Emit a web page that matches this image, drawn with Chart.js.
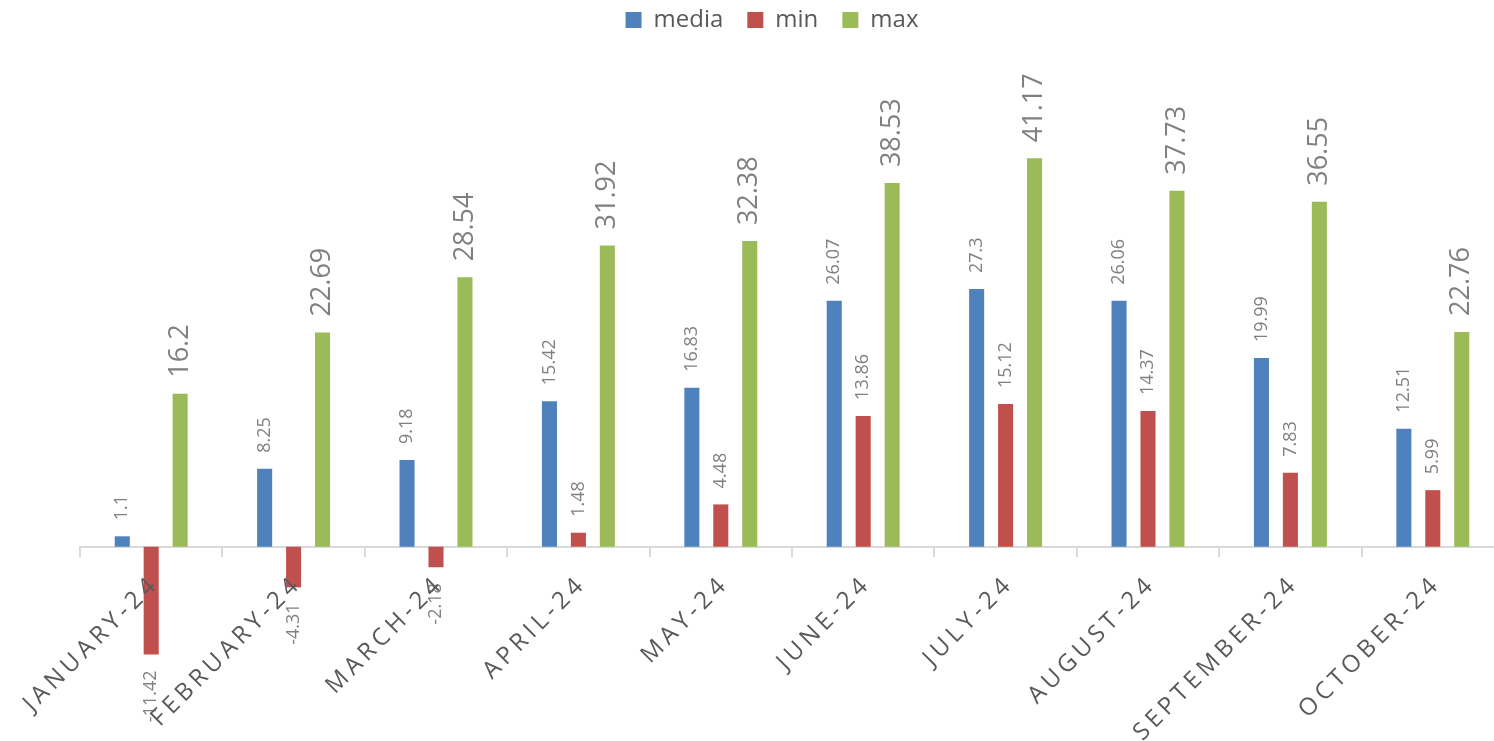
<!DOCTYPE html>
<html>
<head>
<meta charset="utf-8">
<script src="https://cdn.jsdelivr.net/npm/chart.js@4.4.1/dist/chart.umd.min.js"></script>
<style>
  html, body { margin: 0; padding: 0; background: #fff; overflow: hidden; }
  #wrap { width: 1504px; height: 741px; }
</style>
</head>
<body>
<div id="wrap"><canvas id="tempChart" width="1504" height="741"></canvas></div>
<script>
const months = ['JANUARY-24', 'FEBRUARY-24', 'MARCH-24', 'APRIL-24', 'MAY-24',
  'JUNE-24', 'JULY-24', 'AUGUST-24', 'SEPTEMBER-24', 'OCTOBER-24'];
const mediaValues = [1.1, 8.25, 9.18, 15.42, 16.83, 26.07, 27.3, 26.06, 19.99, 12.51];
const minValues = [-11.42, -4.31, -2.18, 1.48, 4.48, 13.86, 15.12, 14.37, 7.83, 5.99];
const maxValues = [16.2, 22.69, 28.54, 31.92, 32.38, 38.53, 41.17, 37.73, 36.55, 22.76];

const FONT = "'Open Sans', sans-serif";

// vertical value labels above (or below, for negatives) each bar
const barLabels = {
  id: 'barLabels',
  afterDatasetsDraw(chart) {
    const ctx = chart.ctx;
    chart.data.datasets.forEach((ds, di) => {
      const meta = chart.getDatasetMeta(di);
      const size = di === 2 ? 27 : 18;
      meta.data.forEach((bar, i) => {
        const v = ds.data[i];
        ctx.save();
        ctx.font = size + 'px ' + FONT;
        ctx.fillStyle = '#808080';
        ctx.textBaseline = 'middle';
        ctx.translate(bar.x, v >= 0 ? bar.y - 16 : bar.y + 16);
        ctx.rotate(-Math.PI / 2);
        ctx.textAlign = v >= 0 ? 'left' : 'right';
        ctx.fillText(String(v), 0, 0);
        ctx.restore();
      });
    });
  }
};

// slanted, letter-spaced month labels under the axis
const monthLabels = {
  id: 'monthLabels',
  afterDraw(chart) {
    const ctx = chart.ctx;
    const xs = chart.scales.x;
    const y0 = chart.scales.y.getPixelForValue(0);
    ctx.save();
    ctx.font = '24px ' + FONT;
    ctx.fillStyle = '#595959';
    ctx.letterSpacing = '4.5px';
    ctx.textAlign = 'right';
    ctx.textBaseline = 'alphabetic';
    months.forEach((m, i) => {
      const x = xs.getPixelForTick(i);
      ctx.save();
      ctx.translate(x + 9, y0 + 38);
      ctx.rotate(-Math.PI / 4);
      ctx.fillText(m, 0, 0);
      ctx.restore();
    });
    ctx.restore();
  }
};

new Chart(document.getElementById('tempChart'), {
  type: 'bar',
  data: {
    labels: months,
    datasets: [
      { label: 'media', data: mediaValues, backgroundColor: '#4F81BD' },
      { label: 'min', data: minValues, backgroundColor: '#C0504D' },
      { label: 'max', data: maxValues, backgroundColor: '#9BBB59' }
    ]
  },
  options: {
    responsive: false,
    devicePixelRatio: 1,
    animation: false,
    barPercentage: 0.52,
    categoryPercentage: 0.61,
    layout: { padding: { left: 40, right: 0, top: -16, bottom: 0 } },
    plugins: {
      tooltip: { enabled: false },
      legend: {
        position: 'top',
        labels: {
          boxWidth: 16,
          boxHeight: 16,
          padding: 24,
          color: '#595959',
          font: { family: FONT, size: 24 }
        }
      }
    },
    scales: {
      x: {
        position: { y: 0 },
        offset: true,
        grid: { offset: true, drawOnChartArea: false, drawTicks: true, tickLength: 9, color: '#d9d9d9', lineWidth: 2 },
        border: { color: '#d9d9d9', width: 2 },
        ticks: { display: false }
      },
      y: {
        min: -20.59,
        max: 53.48,
        grid: { display: false },
        border: { display: false },
        ticks: { display: false },
        afterFit(scale) { scale.width = 40; }
      }
    }
  },
  plugins: [barLabels, monthLabels]
});
</script>
</body>
</html>
